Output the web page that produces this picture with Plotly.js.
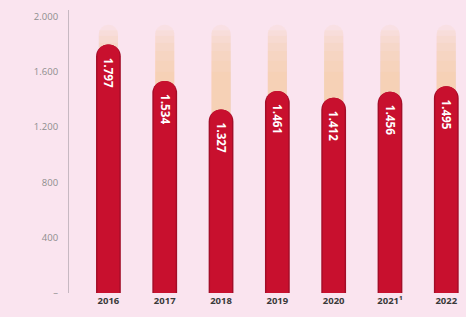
<!DOCTYPE html>
<html><head><meta charset="utf-8">
<script src="https://cdn.plot.ly/plotly-3.0.1.min.js"></script>
<style>html,body{margin:0;padding:0;background:#fae4ef;}#c{width:466px;height:317px;}</style>
</head><body><div id="c"></div>
<script>
const years = ["2016","2017","2018","2019","2020","2021","2022"];
const yearLabels = ["2016","2017","2018","2019","2020","2021¹","2022"];
const values = [1797,1534,1327,1461,1412,1456,1495];
const yTickVals = [0,400,800,1200,1600,2000];
const yTickText = ["–","400","800","1.200","1.600","2.000"];
const glowLevels = [1600,1680,1750,1810,1860,1900,1940];

const traces = [];
glowLevels.forEach(g => {
  traces.push({
    type:'bar', x: years, y: years.map(()=>g), xaxis:'x',
    marker:{color:'rgba(250,200,140,0.10)', line:{width:0}, cornerradius:9},
    width:0.34, hoverinfo:'skip', showlegend:false
  });
});
// darker rim behind main bar
traces.push({
  type:'bar', x: years, y: values, xaxis:'x2',
  marker:{color:'#a30d28', line:{width:0}, cornerradius:12},
  width:0.44, hoverinfo:'skip', showlegend:false
});
traces.push({
  type:'bar', x: years, y: values, xaxis:'x3',
  marker:{color:'#c8102e', line:{width:0}, cornerradius:11},
  width:0.39,
  texttemplate:'\u00a0%{y:,}',
  textposition:'inside', insidetextanchor:'end', textangle:90,
  insidetextfont:{family:'Open Sans, sans-serif', size:12.5, color:'#ffffff', weight:700},
  showlegend:false
});

const hiddenX = {type:'category', range:[-0.70,6.35], overlaying:'x', visible:false, showgrid:false, zeroline:false};
const layout = {
  width:466, height:317,
  margin:{l:69, r:0, t:10, b:24},
  paper_bgcolor:'#fae4ef', plot_bgcolor:'#fae4ef',
  barmode:'overlay', separators:',.',
  showlegend:false,
  xaxis:{type:'category', range:[-0.70,6.35], tickvals:years, ticktext:yearLabels,
    showgrid:false, zeroline:false, showline:false, ticks:'', ticklen:0,
    tickfont:{family:'Open Sans, sans-serif', size:9.5, color:'#3a3a3a', weight:700}},
  xaxis2:Object.assign({}, hiddenX),
  xaxis3:Object.assign({}, hiddenX),
  yaxis:{range:[0,2047], tickvals:yTickVals, ticktext:yTickText,
    showgrid:false, zeroline:false, showline:true, linecolor:'#c7b8c2', linewidth:1,
    ticks:'', ticklabelstandoff:8,
    tickfont:{family:'Open Sans, sans-serif', size:9.5, color:'#8e8e8e'}}
};
Plotly.newPlot('c', traces, layout, {displayModeBar:false, staticPlot:true});
</script></body></html>
